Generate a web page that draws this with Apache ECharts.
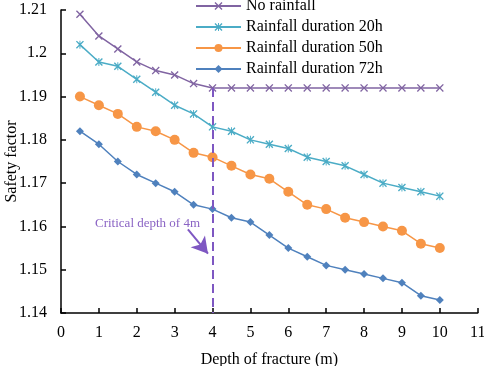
<!DOCTYPE html>
<html><head><meta charset="utf-8">
<script src="https://cdn.jsdelivr.net/npm/echarts@6/dist/echarts.min.js"></script>
<style>html,body{margin:0;padding:0;background:#fff}#c{width:484px;height:366px}</style>
</head><body><div id="c"></div>
<script>
const depths = [0.5,1,1.5,2,2.5,3,3.5,4,4.5,5,5.5,6,6.5,7,7.5,8,8.5,9,9.5,10];
const noRain = [1.209,1.204,1.201,1.198,1.196,1.195,1.193,1.192,1.192,1.192,1.192,1.192,1.192,1.192,1.192,1.192,1.192,1.192,1.192,1.192];
const rain20 = [1.202,1.198,1.197,1.194,1.191,1.188,1.186,1.183,1.182,1.180,1.179,1.178,1.176,1.175,1.174,1.172,1.170,1.169,1.168,1.167];
const rain50 = [1.190,1.188,1.186,1.183,1.182,1.180,1.177,1.176,1.174,1.172,1.171,1.168,1.165,1.164,1.162,1.161,1.160,1.159,1.156,1.155];
const rain72 = [1.182,1.179,1.175,1.172,1.170,1.168,1.165,1.164,1.162,1.161,1.158,1.155,1.153,1.151,1.150,1.149,1.148,1.147,1.144,1.143];
const seriesNames = ['No rainfall','Rainfall duration 20h','Rainfall duration 50h','Rainfall duration 72h'];
const criticalDepth = 4;
const criticalTop = 1.192;
const arrowFrom = [3.35, 1.1593];
const arrowTo = [3.88, 1.1537];

const FONT = '"Liberation Serif","Times New Roman",serif';
const crossPath = 'path://M0,1.2L1.2,0L5,3.8L8.8,0L10,1.2L6.2,5L10,8.8L8.8,10L5,6.2L1.2,10L0,8.8L3.8,5Z';
const starPath = 'path://M0,1.2L1.2,0L5,3.8L8.8,0L10,1.2L6.2,5L10,8.8L8.8,10L5,6.2L1.2,10L0,8.8L3.8,5Z M4.4,0L5.6,0L5.6,10L4.4,10Z';
const pair = arr => depths.map((d,i)=>[d,arr[i]]);

const chart = echarts.init(document.getElementById('c'));
chart.setOption({
  animation:false,
  textStyle:{fontFamily:FONT},
  grid:{left:61, top:10, width:416.7, height:303, containLabel:false, outerBoundsMode:'none'},
  legend:{
    orient:'vertical', left:190, top:-7, itemWidth:45, itemHeight:10, itemGap:5,
    textStyle:{fontFamily:FONT, fontSize:16, color:'#000'},
    data:seriesNames
  },
  xAxis:{
    type:'value', min:0, max:11, interval:1,
    name:'Depth of fracture (m)', nameLocation:'middle', nameGap:39, nameMoveOverlap:false,
    nameTextStyle:{fontFamily:FONT, fontSize:16, color:'#000'},
    axisLine:{lineStyle:{color:'#000', width:1.5}},
    axisTick:{inside:true, length:5, lineStyle:{color:'#000', width:1.5}},
    axisLabel:{fontFamily:FONT, fontSize:16, color:'#000', margin:12},
    splitLine:{show:false}
  },
  yAxis:{
    type:'value', min:1.14, max:1.21, interval:0.01,
    name:'Safety factor', nameLocation:'middle', nameGap:41, nameMoveOverlap:false,
    nameTextStyle:{fontFamily:FONT, fontSize:16, color:'#000'},
    axisLine:{show:true, lineStyle:{color:'#000', width:1.5}},
    axisTick:{show:true, inside:true, length:5, lineStyle:{color:'#000', width:1.5}},
    axisLabel:{fontFamily:FONT, fontSize:16, color:'#000', margin:14},
    splitLine:{show:false}
  },
  graphic:[{
    type:'text', left:95, top:217,
    style:{text:'Critical depth of 4m', font:'13px '+FONT, fill:'#8a63c4'}
  }],
  series:[
    {name:seriesNames[0], type:'line', data:pair(noRain), symbol:crossPath, symbolSize:8,
     color:'#8064A2', lineStyle:{width:1.5}, itemStyle:{color:'#8064A2'}, z:3,
     markLine:{silent:true, symbol:['none','none'], label:{show:false},
       lineStyle:{color:'#7E57C2', type:[9,5], width:2},
       data:[[{coord:[criticalDepth,criticalTop]},{coord:[criticalDepth,1.14]}]]}},
    {name:seriesNames[1], type:'line', data:pair(rain20), symbol:starPath, symbolSize:8,
     color:'#4BACC6', lineStyle:{width:1.5}, itemStyle:{color:'#4BACC6'}, z:3},
    {name:seriesNames[2], type:'line', data:pair(rain50), symbol:'circle', symbolSize:10,
     color:'#F79646', lineStyle:{width:1.5}, itemStyle:{color:'#F79646'}, z:3},
    {name:seriesNames[3], type:'line', data:pair(rain72), symbol:'diamond', symbolSize:8,
     color:'#4F81BD', lineStyle:{width:1.5}, itemStyle:{color:'#4F81BD'}, z:3,
     markLine:{silent:true, symbol:['none','arrow'], symbolSize:[14,16], label:{show:false},
       lineStyle:{color:'#7E57C2', type:'solid', width:2},
       data:[[{coord:arrowFrom},{coord:arrowTo}]]}}
  ]
});
</script></body></html>
